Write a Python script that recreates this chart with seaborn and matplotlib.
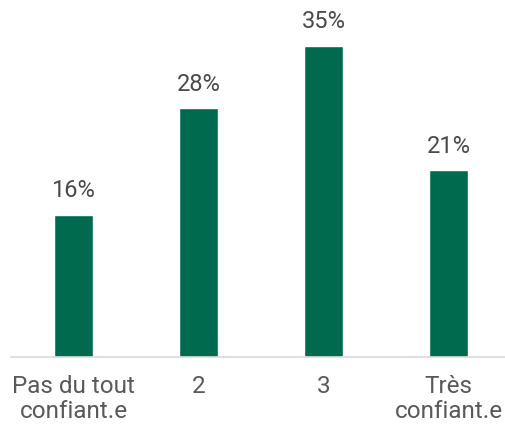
import matplotlib
matplotlib.use("Agg")
import matplotlib.pyplot as plt
import seaborn as sns
import pandas as pd

categories = ["Pas du tout\nconfiant.e", "2", "3", "Très\nconfiant.e"]
values = [16, 28, 35, 21]

df = pd.DataFrame({"cat": categories, "val": values})

sns.set_style("white")
plt.rcParams['font.family'] = ['Roboto', 'DejaVu Sans']

fig = plt.figure(figsize=(5.06, 4.28), dpi=100)
ax = fig.add_axes([11 / 506, 71 / 428, 494 / 506, 357 / 428])

sns.barplot(data=df, x="cat", y="val", color="#006A4E", width=0.31,
            saturation=1, ax=ax)

ax.set_xlim(-0.5, 3.452)
ax.set_ylim(0, 40.17)

for i, v in enumerate(values):
    ax.annotate(f"{v}%", (i, v), xytext=(0, 9), textcoords="offset points",
                ha="center", va="bottom", fontsize=17, color="#4a4a4a")

for s in ["top", "right", "left"]:
    ax.spines[s].set_visible(False)
ax.spines["bottom"].set_color("#d9d9d9")
ax.spines["bottom"].set_linewidth(1.2)
ax.set_yticks([])
ax.set_xlabel("")
ax.set_ylabel("")
ax.tick_params(axis="x", length=0, pad=13, labelsize=17.5, labelcolor="#595959")
for t in ax.get_xticklabels():
    t.set_linespacing(1.1)

fig.savefig("out.png", dpi=100)
